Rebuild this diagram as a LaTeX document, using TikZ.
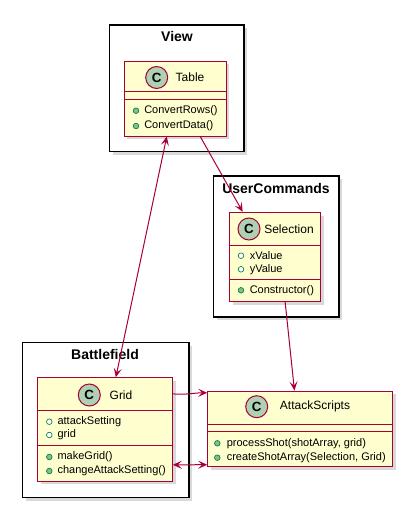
\documentclass[tikz,border=0pt]{standalone}
\usepackage{fontspec}
\setmainfont{Liberation Sans}
\usetikzlibrary{arrows.meta,calc,fit,shadows}

\definecolor{umlred}{HTML}{A80036}
\definecolor{umlfill}{HTML}{FEFECE}
\definecolor{umlcircle}{HTML}{ADD1B2}
\definecolor{umlgreen}{HTML}{038048}
\definecolor{umlgreenfill}{HTML}{84BE84}

\tikzset{
	umlhead/.tip={Stealth[length=6.75pt,width=6pt,inset=3pt]},
	umlshadow/.style={drop shadow={shadow xshift=2.5pt,shadow yshift=-2.5pt,opacity=0.25,fill=black!60}},
	package/.style={draw=black,line width=1.1pt,fill=white,inner sep=0pt,umlshadow},
	pkgtitle/.style={inner sep=0pt,font=\bfseries\fontsize{10.5pt}{12pt}\selectfont},
	classbox/.style={draw=umlred,fill=umlfill,line width=0.75pt,inner sep=0pt,umlshadow},
	classline/.style={draw=umlred,line width=0.75pt},
	classicon/.style={circle,draw=umlred,fill=umlcircle,line width=0.75pt,minimum size=16.5pt,inner sep=0pt,font=\bfseries\fontsize{10pt}{12pt}\selectfont},
	classname/.style={inner sep=0pt,font=\fontsize{9pt}{11pt}\selectfont},
	member/.style={anchor=west,inner sep=0pt,font=\fontsize{8.25pt}{10pt}\selectfont},
	method/.style={circle,draw=umlgreen,fill=umlgreenfill,line width=0.5pt,minimum size=4.2pt,inner sep=0pt},
	field/.style={circle,draw=umlgreen,fill=white,line width=0.5pt,minimum size=4.2pt,inner sep=0pt},
	link/.style={draw=umlred,line width=0.75pt,-umlhead},
	twolink/.style={draw=umlred,line width=0.75pt,umlhead-umlhead}
}

\begin{document}
\begin{tikzpicture}[x=0.75pt,y=-0.75pt]
	\useasboundingbox (0,0) rectangle (402,507);

	% Package
	\node[package,fit={(109.3,25) (244,151.7)}] (view) {};
	\node[pkgtitle] (viewtitle) at (177,36.5) {View};
	\node[package,fit={(213.3,176) (339,317)}] (usercmds) {};
	\node[pkgtitle] (usercmdstitle) at (276,188.5) {UserCommands};
	\node[package,fit={(22.3,342.3) (189,497.7)}] (battlefield) {};
	\node[pkgtitle] (battlefieldtitle) at (105,354.5) {Battlefield};

	% Table
	\node[classbox,fit={(124,61) (226,136)}] (table) {};
	\draw[classline] (124,91) -- (226,91);
	\draw[classline] (124,99.5) -- (226,99.5);
	\node[classicon] (tableicon) at (156.7,77.5) {C};
	\node[classname] (tablename) at (190,77.5) {Table};
	\node[method] (tableb1) at (136,110.7) {};
	\node[member] (tablem1) at (144,110.7) {ConvertRows()};
	\node[method] (tableb2) at (136,126) {};
	\node[member] (tablem2) at (144,126) {ConvertData()};

	% Selection
	\node[classbox,fit={(229.3,212.3) (320.7,301.7)}] (selection) {};
	\draw[classline] (229.3,245) -- (320.7,245);
	\draw[classline] (229.3,279) -- (320.7,279);
	\node[classicon] (selectionicon) at (249,229) {C};
	\node[classname] (selectionname) at (289,229) {Selection};
	\node[field] (selectionb1) at (241,255.7) {};
	\node[member] (selectionf1) at (249.5,255.7) {xValue};
	\node[field] (selectionb2) at (241,269.3) {};
	\node[member] (selectionf2) at (249.5,269.3) {yValue};
	\node[method] (selectionb3) at (241,290.3) {};
	\node[member] (selectionm1) at (249.5,290.3) {Constructor()};

	% Grid
	\node[classbox,fit={(37.7,377.7) (172.3,481)}] (grid) {};
	\draw[classline] (37.7,410.3) -- (172.3,410.3);
	\draw[classline] (37.7,445) -- (172.3,445);
	\node[classicon] (gridicon) at (89.3,395) {C};
	\node[classname] (gridname) at (121,395) {Grid};
	\node[field] (gridb1) at (49.3,421.7) {};
	\node[member] (gridf1) at (57.3,421.7) {attackSetting};
	\node[field] (gridb2) at (49.3,435) {};
	\node[member] (gridf2) at (57.3,435) {grid};
	\node[method] (gridb3) at (49.3,457) {};
	\node[member] (gridm1) at (57.3,457) {makeGrid()};
	\node[method] (gridb4) at (49.3,471) {};
	\node[member] (gridm2) at (57.3,471) {changeAttackSetting()};

	% AttackScripts
	\node[classbox,fit={(207.7,391) (392.3,466.5)}] (attack) {};
	\draw[classline] (207.7,424) -- (392.3,424);
	\draw[classline] (207.7,431.7) -- (392.3,431.7);
	\node[classicon] (attackicon) at (256.7,406.7) {C};
	\node[classname] (attackname) at (315,406.7) {AttackScripts};
	\node[method] (attackb1) at (217.3,443.3) {};
	\node[member] (attackm1) at (226.5,443.3) {processShot(shotArray, grid)};
	\node[method] (attackb2) at (217.3,457.7) {};
	\node[member] (attackm2) at (226.5,457.7) {createShotArray(Selection, Grid)};

	%link
	\draw[link] ($(table.south west)!0.745!(table.south east)$) -- ($(selection.north west)!0.15!(selection.north east)$);
	\draw[twolink] ($(table.south west)!0.42!(table.south east)$) -- ($(grid.north west)!0.58!(grid.north east)$);
	\draw[link] ($(selection.south west)!0.61!(selection.south east)$) -- ($(attack.north west)!0.47!(attack.north east)$);
	\draw[link] ($(grid.north east)!0.16!(grid.south east)$) to[out=-5,in=180] ($(attack.north west)!0.03!(attack.south west)$);
	\draw[twolink] ($(grid.north east)!0.84!(grid.south east)$) -- ($(attack.north west)!0.97!(attack.south west)$);

\end{tikzpicture}
\end{document}
